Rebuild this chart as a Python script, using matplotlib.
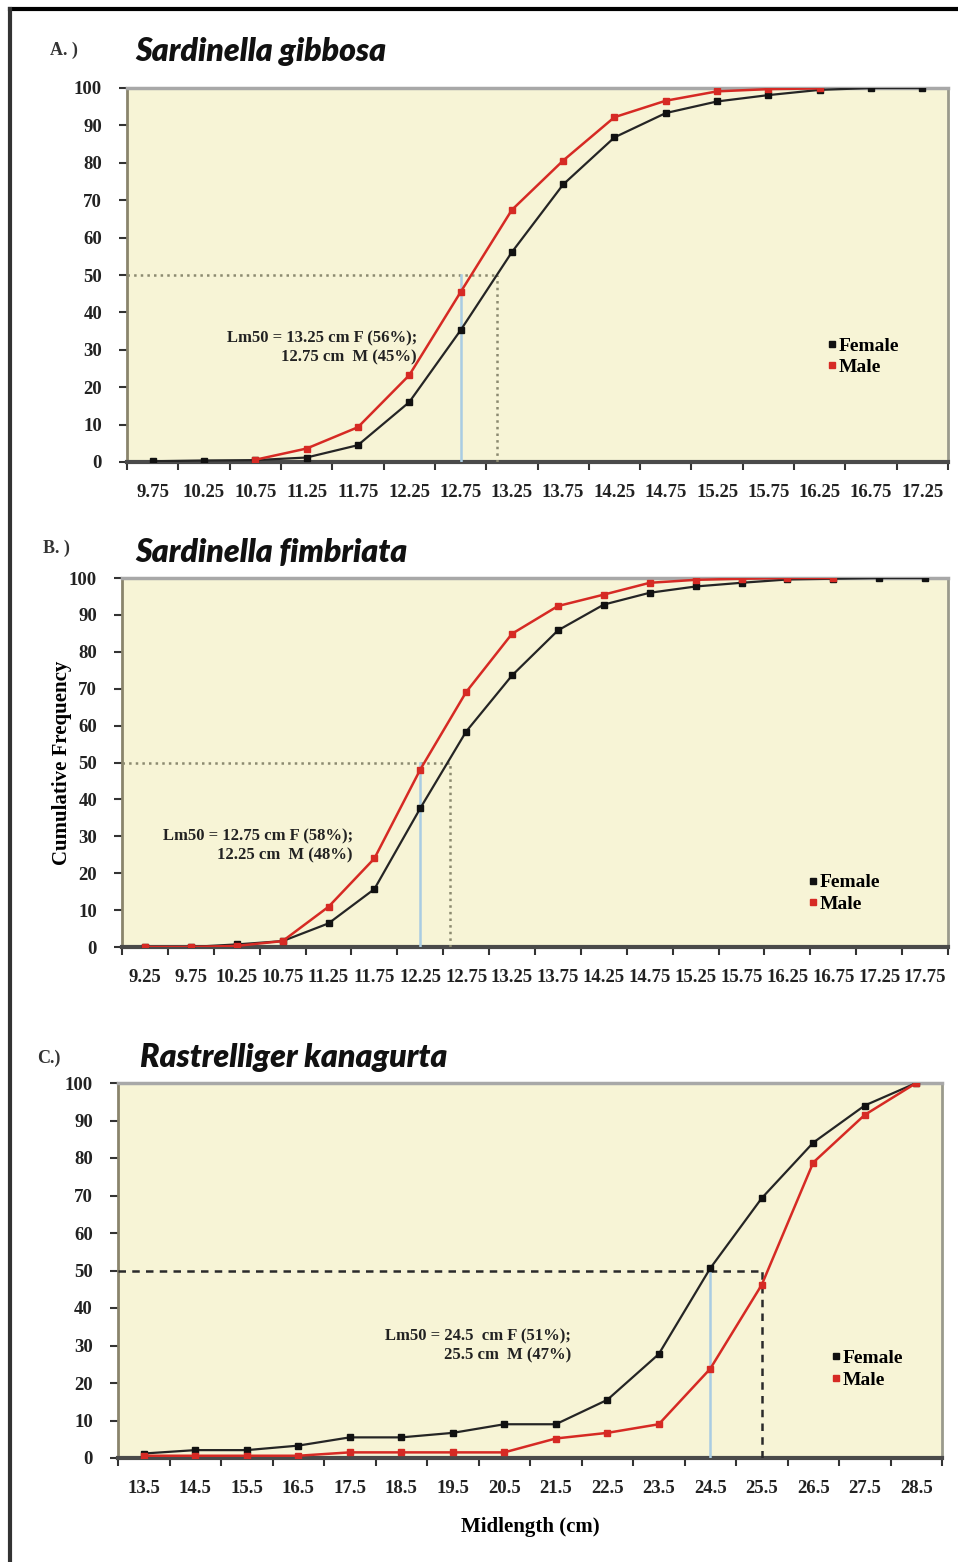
import matplotlib.pyplot as plt
from matplotlib.lines import Line2D
import numpy as np

# panel A - Sardinella gibbosa
catsA = ["9.75", "10.25", "10.75", "11.25", "11.75", "12.25", "12.75", "13.25",
         "13.75", "14.25", "14.75", "15.25", "15.75", "16.25", "16.75", "17.25"]
femaleA = [0.2, 0.4, 0.5, 1.2, 4.5, 16, 35.2, 56.1, 74.2, 86.8, 93.3, 96.4, 98.1, 99.5, 100, 100]
maleA = [np.nan, np.nan, 0.6, 3.6, 9.3, 23.2, 45.4, 67.4, 80.6, 92.2, 96.6, 99.1, 99.7, 99.9, np.nan, np.nan]

# panel B - Sardinella fimbriata
catsB = ["9.25", "9.75", "10.25", "10.75", "11.25", "11.75", "12.25", "12.75", "13.25",
         "13.75", "14.25", "14.75", "15.25", "15.75", "16.25", "16.75", "17.25", "17.75"]
femaleB = [0, 0, 0.7, 1.6, 6.4, 15.7, 37.6, 58.4, 73.6, 85.8, 92.8, 96.0, 97.7, 98.7, 99.6, 99.8, 100, 100]
maleB = [0, 0, 0.3, 1.6, 10.9, 24.0, 48.1, 69.1, 84.9, 92.4, 95.5, 98.7, 99.5, 99.8, 100, 100, np.nan, np.nan]

# panel C - Rastrelliger kanagurta
catsC = ["13.5", "14.5", "15.5", "16.5", "17.5", "18.5", "19.5", "20.5",
         "21.5", "22.5", "23.5", "24.5", "25.5", "26.5", "27.5", "28.5"]
femaleC = [1.2, 2.1, 2.1, 3.3, 5.5, 5.5, 6.7, 9.0, 9.0, 15.5, 27.7, 50.6, 69.3, 84.1, 94.0, 100]
maleC = [0.6, 0.6, 0.6, 0.6, 1.5, 1.5, 1.5, 1.5, 5.2, 6.7, 9.0, 23.8, 46.2, 78.8, 91.5, 100]

SERIF = "Liberation Serif"
FACE = "#F7F4D6"

fig = plt.figure(figsize=(9.58, 15.62), dpi=100)

def figPos(x, y):
    return x / 958, 1 - y / 1562

def axesRect(left, top, right, bottom):
    return [left / 958, 1 - bottom / 1562, (right - left) / 958, (bottom - top) / 1562]

def drawPanel(rect, cats, female, male, blueX, refX, refStyle, refColor, note, noteXY, legXY):
    ax = fig.add_axes(rect)
    ax.set_facecolor(FACE)
    x = np.arange(len(cats))

    ax.plot(x, female, color="#252525", lw=1.6, marker="s", ms=4.5, mfc="#111111", mec="#111111", zorder=4)
    ax.plot(x, male, color="#d62a24", lw=1.8, marker="s", ms=4.5, zorder=5)

    # Lm50 guide lines
    ax.plot([-0.5, refX], [50, 50], ls=refStyle, color=refColor, lw=1.8, zorder=3)
    ax.plot([refX, refX], [0, 50], ls=refStyle, color=refColor, lw=1.8, zorder=3)
    ax.plot([blueX, blueX], [0, 50], color="#a9cce3", lw=1.8, zorder=3)

    ax.text(noteXY[0], noteXY[1], note, ha="right", va="center", multialignment="right",
            fontsize=12, fontweight="bold", family=SERIF, color="#222222", linespacing=1.25)

    handles = [Line2D([], [], color="#111111", marker="s", ms=4.5, ls=""),
               Line2D([], [], color="#d62a24", marker="s", ms=4.5, ls="")]
    ax.legend(handles, ["Female", "Male"], loc="upper left", bbox_to_anchor=legXY,
              frameon=False, handlelength=0.4, handletextpad=0.15, labelspacing=0.2,
              borderpad=0, prop={"family": SERIF, "weight": "bold", "size": 14})

    ax.set_xlim(-0.5, len(cats) - 0.5)
    ax.set_ylim(0, 100)
    ax.set_yticks(np.arange(0, 101, 10))
    ax.set_xticks(x)
    ax.set_xticklabels(cats)
    ax.set_xticks(np.arange(-0.5, len(cats)), minor=True)
    ax.tick_params(axis="x", which="major", length=0, pad=16)
    ax.tick_params(axis="x", which="minor", length=6, width=1.5, color="#333333")
    ax.tick_params(axis="y", length=6, width=1.5, color="#333333", pad=12)
    for lab in ax.get_xticklabels() + ax.get_yticklabels():
        lab.set_family(SERIF)
        lab.set_fontweight("bold")
        lab.set_fontsize(13.5)
        lab.set_color("#222222")

    ax.spines["top"].set_color("#a8a8a8")
    ax.spines["top"].set_linewidth(2.5)
    ax.spines["right"].set_color("#9a9a8c")
    ax.spines["right"].set_linewidth(2)
    ax.spines["left"].set_color("#8a846c")
    ax.spines["left"].set_linewidth(2)
    ax.spines["bottom"].set_color("#4a4a4a")
    ax.spines["bottom"].set_linewidth(3)
    return ax

axA = drawPanel(axesRect(127, 88, 948, 462), catsA, femaleA, maleA, 6.0, 6.72, ":", "#8c8a70",
                "Lm50 = 13.25 cm F (56%);\n12.75 cm  M (45%)", (5.15, 30.5), (0.842, 0.36))
axB = drawPanel(axesRect(122, 578, 948, 947), catsB, femaleB, maleB, 6.0, 6.65, ":", "#8c8a70",
                "Lm50 = 12.75 cm F (58%);\n12.25 cm  M (48%)", (4.53, 27.4), (0.82, 0.225))
axC = drawPanel(axesRect(118, 1083, 942, 1458), catsC, femaleC, maleC, 11.0, 12.0, (0, (3, 2.5)), "#2a2a2a",
                "Lm50 = 24.5  cm F (51%);\n25.5 cm  M (47%)", (8.3, 29.9), (0.855, 0.315))

axB.set_ylabel("Cumulative Frequency", family=SERIF, fontweight="bold", fontsize=15, labelpad=-2)
axC.set_xlabel("Midlength (cm)", family=SERIF, fontweight="bold", fontsize=15, labelpad=14)

# panel titles and letters
titles = [("A. )", 50, 50, "Sardinella gibbosa", 135, 52),
          ("B. )", 43, 548, "Sardinella fimbriata", 135, 552),
          ("C.)", 37, 1058, "Rastrelliger kanagurta", 140, 1057)]
for letter, lx, ly, name, tx, ty in titles:
    fig.text(*figPos(lx, ly), letter, ha="left", va="center", family=SERIF,
             fontweight="bold", fontsize=13, color="#333333")
    fig.text(*figPos(tx, ty), name, ha="left", va="center", family="Lato",
             fontweight="heavy", style="italic", fontsize=23, color="#111111")

# outer frame lines
fig.add_artist(Line2D([10 / 958, 1], [1 - 9 / 1562, 1 - 9 / 1562], color="black", lw=3))
fig.add_artist(Line2D([10 / 958, 10 / 958], [0, 1 - 9 / 1562], color="#333333", lw=3))

fig.savefig("out.png", dpi=100)
